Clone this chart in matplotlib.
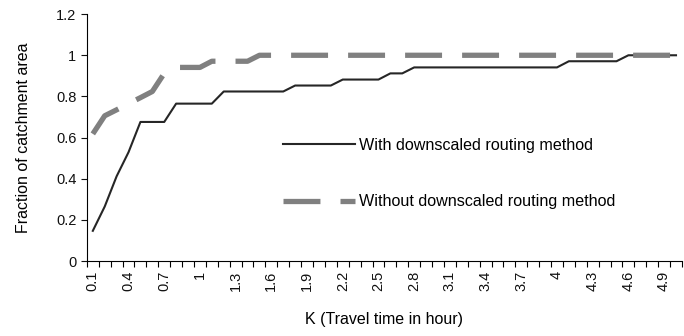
import numpy as np
import matplotlib.pyplot as plt

plt.rcParams['font.family'] = ['Liberation Sans', 'DejaVu Sans']

# travel time categories (hour)
k_hours = [0.1, 0.2, 0.3, 0.4, 0.5, 0.6, 0.7, 0.8, 0.9, 1.0,
           1.1, 1.2, 1.3, 1.4, 1.5, 1.6, 1.7, 1.8, 1.9, 2.0,
           2.1, 2.2, 2.3, 2.4, 2.5, 2.6, 2.7, 2.8, 2.9, 3.0,
           3.1, 3.2, 3.3, 3.4, 3.5, 3.6, 3.7, 3.8, 3.9, 4.0,
           4.1, 4.2, 4.3, 4.4, 4.5, 4.6, 4.7, 4.8, 4.9, 5.0]

# fraction of catchment area
with_downscaled = [0.147, 0.265, 0.412, 0.529, 0.676, 0.676, 0.676, 0.765, 0.765, 0.765,
                   0.765, 0.824, 0.824, 0.824, 0.824, 0.824, 0.824, 0.853, 0.853, 0.853,
                   0.853, 0.882, 0.882, 0.882, 0.882, 0.912, 0.912, 0.941, 0.941, 0.941,
                   0.941, 0.941, 0.941, 0.941, 0.941, 0.941, 0.941, 0.941, 0.941, 0.941,
                   0.971, 0.971, 0.971, 0.971, 0.971, 1.0, 1.0, 1.0, 1.0, 1.0]
without_downscaled = [0.618, 0.706, 0.735, 0.765, 0.794, 0.824, 0.912, 0.941, 0.941, 0.941,
                      0.971, 0.971, 0.971, 0.971, 1.0, 1.0, 1.0, 1.0, 1.0, 1.0,
                      1.0, 1.0, 1.0, 1.0, 1.0, 1.0, 1.0, 1.0, 1.0, 1.0,
                      1.0, 1.0, 1.0, 1.0, 1.0, 1.0, 1.0, 1.0, 1.0, 1.0,
                      1.0, 1.0, 1.0, 1.0, 1.0, 1.0, 1.0, 1.0, 1.0, 1.0]

fig = plt.figure(figsize=(6.84, 3.36), dpi=100)
ax = fig.add_axes([0.127, 0.223, 0.870, 0.735])

x = np.arange(len(k_hours))
ax.plot(x, with_downscaled, color='#262626', lw=1.5, label='With downscaled routing method', zorder=2)
ax.plot(x, without_downscaled, color='#808080', lw=3.8, dashes=(7.0, 3.8), dash_capstyle='butt',
        label='Without downscaled routing method', zorder=3)

ax.set_xlim(-0.5, len(k_hours) - 0.5)
ax.set_ylim(0, 1.2)
ax.set_yticks([0, 0.2, 0.4, 0.6, 0.8, 1.0, 1.2])
ax.set_yticklabels(['0', '0.2', '0.4', '0.6', '0.8', '1', '1.2'])

ax.set_xticks(x[::3])
ax.set_xticklabels(['%g' % v for v in k_hours[::3]], rotation=90)
ax.set_xticks(np.arange(-0.5, len(k_hours)), minor=True)
ax.tick_params(axis='x', which='major', length=0, pad=7)
ax.tick_params(axis='x', which='minor', length=4, direction='out', width=0.8)
ax.tick_params(axis='y', length=4, direction='out', width=0.8)
ax.tick_params(labelsize=10.5, colors='#111111')

for s in ['top', 'right']:
    ax.spines[s].set_visible(False)
for s in ['left', 'bottom']:
    ax.spines[s].set_linewidth(0.8)

ax.set_xlabel('K (Travel time in hour)', fontsize=11.5, labelpad=15)
ax.set_ylabel('Fraction of catchment area', fontsize=11.5, labelpad=18)

ax.legend(loc='upper left', bbox_to_anchor=(0.329, 0.50), frameon=False, fontsize=11.6,
          handlelength=4.5, handletextpad=0.25, labelspacing=2.6, borderpad=0, borderaxespad=0)

plt.savefig('out.png', dpi=100)
